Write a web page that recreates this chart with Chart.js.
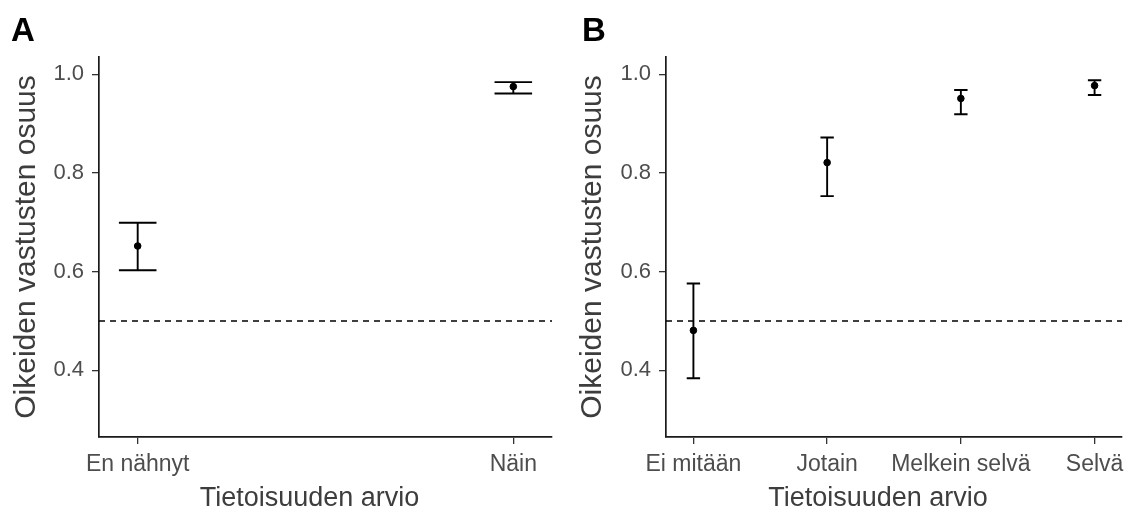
<!DOCTYPE html>
<html>
<head>
<meta charset="utf-8">
<script src="https://cdn.jsdelivr.net/npm/chart.js@4.4.1/dist/chart.umd.min.js"></script>
<style>
body{margin:0;background:#fff;width:1132px;height:515px;overflow:hidden;position:relative;font-family:"Liberation Sans",Arial,sans-serif;}
.panel{position:absolute;top:0;width:566px;height:515px;}
.tag{position:absolute;top:11px;font-weight:bold;font-size:33px;color:#000;}
</style>
</head>
<body>

<div class="panel" style="left:0"><canvas id="chartA" width="566" height="515"></canvas></div>
<div class="panel" style="left:566px"><canvas id="chartB" width="566" height="515"></canvas></div>
<div class="tag" style="left:11px">A</div>
<div class="tag" style="left:582px">B</div>

<script>

/* DATA */

const catsA=["En nähnyt","Näin"];
const meanA=[0.652,0.975];
const lowA=[0.603,0.961];
const highA=[0.699,0.984];

const catsB=["Ei mitään","Jotain","Melkein selvä","Selvä"];
const meanB=[0.481,0.821,0.951,0.977];
const lowB=[0.384,0.753,0.919,0.958];
const highB=[0.576,0.872,0.968,0.988];

const chanceLevel=0.5;
const yTicks=[0.4,0.6,0.8,1.0];

const xTitle="Tietoisuuden arvio";
const yTitle="Oikeiden vastusten osuus";


/* STYLE */

const FONT='"Liberation Sans", Arial, sans-serif';
const TICKCOL="#4d4d4d";
const TITLECOL="#3d3d3d";


/* ERROR BARS + X TITLE PLUGIN */

function errorBars(low,high){
return {
id:"errorBars",
beforeDatasetsDraw(chart){
const ctx=chart.ctx;
const x=chart.scales.x;
const y=chart.scales.y;
ctx.save();
ctx.strokeStyle="#000";
ctx.lineWidth=1.9;
for(let i=0;i<low.length;i++){
const xc=x.getPixelForValue(i);
const xl=x.getPixelForValue(i-0.05);
const xr=x.getPixelForValue(i+0.05);
const yl=y.getPixelForValue(low[i]);
const yh=y.getPixelForValue(high[i]);
ctx.beginPath();
ctx.moveTo(xc,yl);ctx.lineTo(xc,yh);
ctx.moveTo(xl,yl);ctx.lineTo(xr,yl);
ctx.moveTo(xl,yh);ctx.lineTo(xr,yh);
ctx.stroke();
}
ctx.restore();
},
afterDraw(chart){
// x title, sits a bit left of the panel centre like in the original
const ctx=chart.ctx;
const a=chart.chartArea;
ctx.save();
ctx.fillStyle=TITLECOL;
ctx.font="27px "+FONT;
ctx.textAlign="center";
ctx.textBaseline="middle";
ctx.fillText(xTitle,(a.left+a.right)/2-16,499);
ctx.restore();
}
};
}


/* CREATE CHART FUNCTION */

function createChart(id,cats,mean,low,high,xmin,xmax,yWidth,padRight){

return new Chart(document.getElementById(id),{

type:"scatter",

data:{
datasets:[
{
type:"line",
data:[{x:xmin,y:chanceLevel},{x:xmax,y:chanceLevel}],
borderColor:"#000",
borderWidth:1.5,
borderDash:[6,5],
pointRadius:0,
fill:false
},
{
data:mean.map((v,i)=>({x:i,y:v})),
backgroundColor:"#000",
borderColor:"#000",
pointRadius:3.3,
pointHoverRadius:3.3
}
]
},

options:{
responsive:false,
animation:false,
events:[],
layout:{padding:{top:57,right:padRight,bottom:0,left:0}},
plugins:{legend:{display:false},tooltip:{enabled:false}},

scales:{
x:{
type:"linear",
min:xmin,
max:xmax,
afterBuildTicks(s){s.ticks=cats.map((c,i)=>({value:i}));},
afterFit(s){s.height=78;s.paddingLeft=0;s.paddingRight=0;},
ticks:{
autoSkip:false,
maxRotation:0,
padding:7,
color:TICKCOL,
font:{family:FONT,size:23},
callback:(v)=>cats[v]
},
grid:{display:true,drawOnChartArea:false,drawTicks:true,tickLength:7,color:"#333",lineWidth:1.3},
border:{display:true,color:"#1a1a1a",width:1.7},
title:{display:false}
},

y:{
min:0.265,
max:1.035,
afterBuildTicks(s){s.ticks=yTicks.map(v=>({value:v}));},
afterFit(s){s.width=yWidth;s.paddingTop=0;s.paddingBottom=0;},
ticks:{
padding:8,
color:TICKCOL,
font:{family:FONT,size:22},
callback:(v)=>v.toFixed(1)
},
grid:{display:true,drawOnChartArea:false,drawTicks:true,tickLength:7,color:"#333",lineWidth:1.3},
border:{display:true,color:"#1a1a1a",width:1.7},
title:{display:true,text:yTitle,color:TITLECOL,font:{family:FONT,size:30},padding:{top:9,bottom:0}}
}
}

},

plugins:[errorBars(low,high)]

});

}


/* CREATE GRAPHS */

const chartA=createChart("chartA",catsA,meanA,lowA,highA,-0.103,1.103,99,14);
const chartB=createChart("chartB",catsB,meanB,lowB,highB,-0.205,3.205,100,10);

</script>
</body>
</html>
